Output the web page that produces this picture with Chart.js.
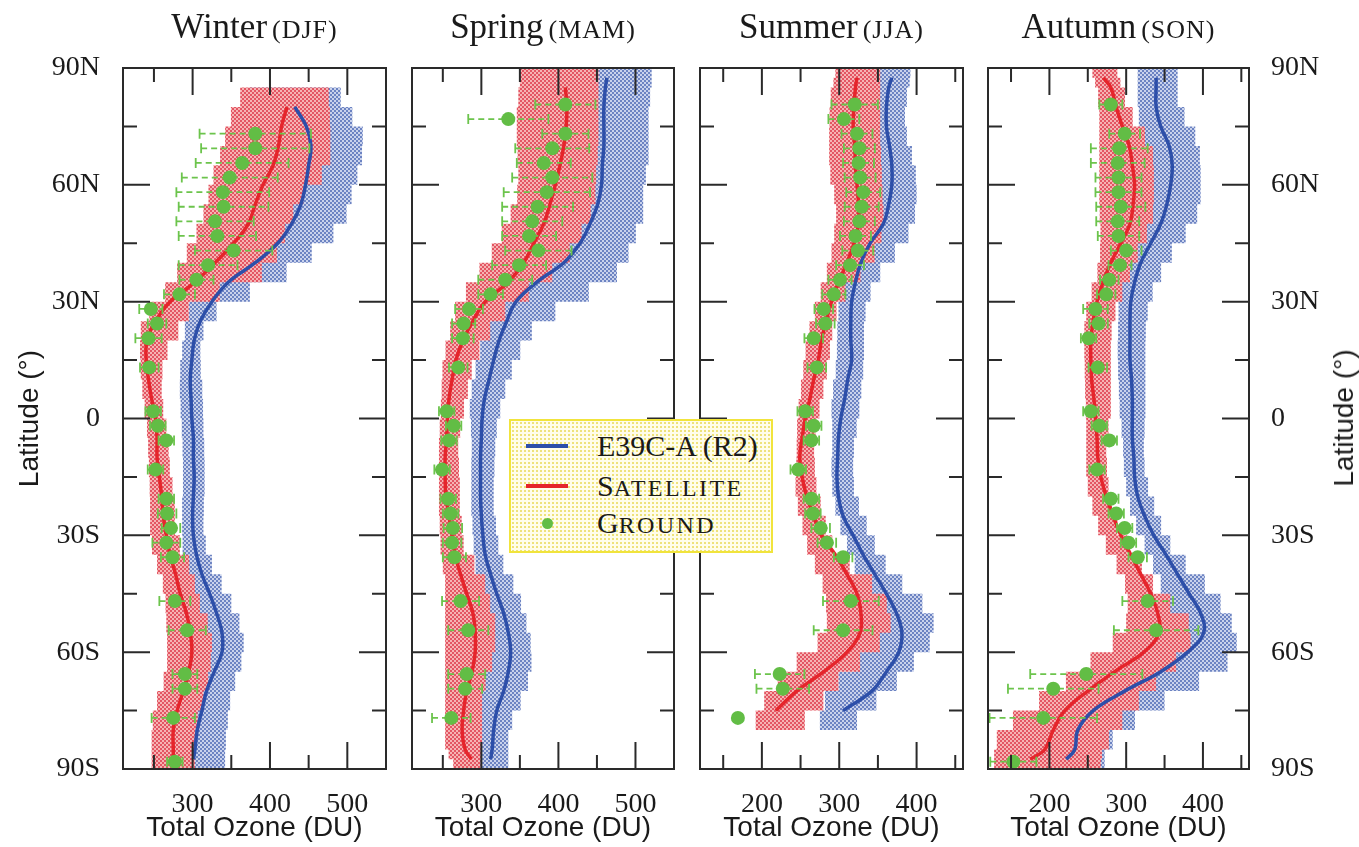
<!DOCTYPE html>
<html>
<head>
<meta charset="utf-8">
<script src="https://cdn.jsdelivr.net/npm/chart.js@4.4.1/dist/chart.umd.min.js"></script>
<style>
  body { margin: 0; background: #fff; width: 1359px; height: 847px; position: relative; overflow: hidden;
         font-family: 'Liberation Serif', serif; color: #1a1a1a; }
  canvas { position: absolute; left: 0; top: 0; }
  .ttl { position: absolute; top: 9px; text-align: center; font-size: 35px; line-height: 35px; white-space: nowrap; }
  .ttl small { font-size: 26px; letter-spacing: 1px; margin-left: 5px; }
  #ylab { position: absolute; left: 1344px; top: 418px; transform: translate(-50%, -50%) rotate(-90deg);
          font: 28px 'Liberation Sans', sans-serif; white-space: nowrap; }
  #legend { position: absolute; left: 509px; top: 419px; width: 264px; height: 134px; box-sizing: border-box;
            border: 2px solid #f1e43c; background-color: #fffdea;
            background-image: radial-gradient(#eee27a 0.9px, transparent 1px); background-size: 4px 4px; }
  #legend .row { position: absolute; left: 0; height: 34px; width: 100%; }
  #legend .sw { position: absolute; left: 15px; top: 15px; width: 42px; height: 4px; }
  #legend .dot { position: absolute; left: 31px; top: 12px; width: 11px; height: 11px; border-radius: 50%; }
  #legend .txt { position: absolute; left: 86px; top: 0; font-size: 30px; line-height: 34px; white-space: nowrap; }
  #legend .sc { font-size: 24px; letter-spacing: 2.4px; }
</style>
</head>
<body>
<canvas id="c0" width="1359" height="847"></canvas>
<canvas id="c1" width="1359" height="847"></canvas>
<canvas id="c2" width="1359" height="847"></canvas>
<canvas id="c3" width="1359" height="847"></canvas>
<div id="titles"></div>
<div id="ylab">Latitude (°)</div>
<div id="legend">
  <div class="row" style="top:8px"><span class="sw" style="background:#2d4fa9"></span><span class="txt">E39C-A (R2)</span></div>
  <div class="row" style="top:48px"><span class="sw" style="background:#e5252b"></span><span class="txt">S<span class="sc">ATELLITE</span></span></div>
  <div class="row" style="top:85px"><span class="dot" style="background:#62bd45"></span><span class="txt">G<span class="sc">ROUND</span></span></div>
</div>
<script>
// latitude grid shared by the model and satellite curves (deg, south negative)
const LAT = [-90, -87.5, -85, -80, -75, -70, -65, -60, -55, -50, -45, -40, -35, -30, -25, -20, -15, -10, -5,
  0, 5, 10, 15, 20, 25, 30, 35, 40, 45, 50, 55, 60, 65, 70, 75, 80, 85, 87.5, 90];

// latitude bins of the ground stations
const GROUND_LAT = [80.625, 76.875, 73.125, 69.375, 65.625, 61.875, 58.125, 54.375, 50.625, 46.875, 43.125,
  39.375, 35.625, 31.875, 28.125, 24.375, 20.625, 13.125, 1.875, -1.875, -5.625, -13.125, -20.625, -24.375,
  -28.125, -31.875, -35.625, -46.875, -54.375, -65.625, -69.375, -76.875, -88.125];

const seasonNames = ['Winter', 'Spring', 'Summer', 'Autumn'];
const seasonMonths = ['(DJF)', '(MAM)', '(JJA)', '(SON)'];
const latTickValues = [-90, -60, -30, 0, 30, 60, 90];
const latTickLabels = ['90S', '60S', '30S', '0', '30N', '60N', '90N'];
const ozoneTickLabels = [200, 300, 400, 500];

// Winter (DJF)
const djfModel = [null, 301, 303, 306, 312, 318, 328, 338, 338, 331, 322, 312, 305, 301, 300, 301, 302, 301, 301,
  299, 298, 297, 299, 302, 310, 325, 346, 381, 410, 428, 440, 446, 450, 453, 447, 432, null, null, null];
const djfModelLo = [262, 262, 266, 270, 280, 288, 298, 310, 310, 305, 296, 290, 287, 287, 286, 287, 288, 287, 287,
  285, 284, 283, 285, 288, 292, 298, 300, 318, 345, 360, 375, 385, 385, 385, 380, 372, 372, null, null];
const djfModelHi = [342, 342, 342, 344, 347, 350, 360, 366, 366, 355, 345, 330, 320, 314, 314, 315, 316, 315, 315,
  313, 314, 311, 310, 310, 318, 344, 404, 439, 469, 495, 503, 508, 518, 520, 520, 493, 490, null, null];
const djfSat = [null, 275, 275, 275, 280, 288, 295, 299, 297, 292, 284, 278, 271, 266, 262, 260, 257, 254, 254,
  252, 247, 243, 240, 241, 252, 271, 303, 329, 353, 372, 381, 391, 404, 411, 415, 422, null, null, null];
const djfSatLo = [247, 247, 247, 247, 250, 258, 267, 267, 267, 265, 265, 258, 250, 245, 245, 245, 244, 243, 242,
  240, 236, 234, 232, 232, 234, 254, 275, 285, 300, 310, 318, 323, 331, 340, 344, 355, 368, null, null];
const djfSatHi = [303, 303, 303, 303, 310, 318, 322, 325, 325, 314, 305, 301, 290, 277, 277, 277, 271, 270, 268,
  264, 260, 260, 262, 273, 290, 300, 370, 409, 409, 430, 430, 456, 478, 478, 478, 477, 475, null, null];
const djfGround = [null, null, 381, 381, 364, 348, 339, 340, 329, 332, 353, 320, 305, 283, 246, 254, 243, 244,
  249, 255, 266, 252, 266, 267, 272, 266, 274, 277, 293, 290, 290, 275, 277];
const djfGroundErr = [null, null, 72, 70, 60, 62, 60, 58, 50, 50, 50, 38, 22, 20, 15, 12, 17, 12,
  10, 10, 10, 10, 10, 12, 12, 18, 15, 20, 24, 16, 16, 28, 10];

// Spring (MAM)
const mamModel = [null, 312, 314, 316, 320, 329, 335, 338, 335, 329, 320, 312, 305, 302, 300, 299, 299, 299, 300,
  301, 304, 310, 316, 323, 333, 345, 372, 407, 428, 441, 451, 456, 457, 459, 459, 459, 461, 463, null];
const mamModelLo = [298, 298, 298, 298, 298, 300, 303, 305, 305, 303, 300, 295, 290, 290, 287, 287, 287, 287, 288,
  285, 285, 290, 295, 302, 310, 318, 330, 345, 360, 370, 380, 390, 398, 400, 400, 400, 405, 405, 405];
const mamModelHi = [335, 335, 335, 335, 345, 357, 364, 366, 362, 355, 348, 335, 322, 322, 316, 316, 316, 318, 318,
  322, 327, 335, 344, 357, 374, 418, 461, 491, 491, 510, 510, 510, 517, 517, 517, 517, 521, 521, 521];
const mamSat = [null, 287, 279, 275, 277, 281, 288, 292, 292, 289, 281, 273, 266, 262, 258, 254, 253, 253, 255,
  256, 258, 262, 267, 276, 289, 305, 335, 355, 368, 381, 389, 396, 402, 407, 410, 411, 409, null, null];
const mamSatLo = [265, 262, 253, 253, 253, 253, 253, 253, 253, 253, 253, 253, 247, 247, 245, 245, 245, 245, 245,
  247, 248, 249, 250, 257, 262, 270, 290, 305, 322, 331, 345, 348, 348, 346, 346, 346, 350, 350, 350];
const mamSatHi = [299, 299, 301, 301, 301, 301, 310, 318, 318, 318, 305, 305, 277, 277, 272, 272, 272, 270, 270,
  275, 280, 285, 290, 305, 318, 344, 379, 405, 424, 436, 448, 448, 450, 452, 452, 452, 452, 452, 452];
const mamGround = [409, 335, 409, 392, 381, 392, 385, 373, 366, 362, 374, 349, 331, 312, 284, 277, 276, 270,
  255, 264, 258, 249, 257, 260, 263, 262, 265, 273, 283, 281, 279, 261, null];
const mamGroundErr = [39, 52, 30, 48, 35, 52, 56, 46, 39, 35, 43, 35, 35, 16, 18, 15, 14, 12,
  10, 10, 10, 10, 10, 10, 12, 12, 15, 24, 26, 24, 22, 25, null];

// Summer (JJA)
const jjaModel = [null, null, null, null, 305, 342, 361, 377, 381, 374, 361, 346, 331, 318, 305, 299, 297, 298, 299,
  302, 307, 311, 316, 315, 315, 316, 321, 328, 340, 357, 364, 368, 368, 365, 361, 361, 364, 368, null];
const jjaModelLo = [null, null, null, 275, 275, 288, 310, 330, 335, 335, 330, 325, 315, 305, 298, 292, 290, 290, 292,
  290, 290, 294, 297, 297, 298, 300, 300, 305, 318, 330, 335, 338, 338, 338, 338, 340, 345, 345, 345];
const jjaModelHi = [null, null, null, 316, 330, 366, 383, 410, 424, 420, 395, 368, 352, 340, 331, 320, 318, 318, 320,
  325, 327, 330, 332, 332, 332, 336, 345, 361, 383, 396, 400, 400, 398, 390, 385, 385, 390, 392, 392];
const jjaSat = [null, null, null, null, 218, 245, 280, 310, 327, 328, 323, 310, 295, 277, 267, 258, 252, 249, 252,
  256, 262, 267, 273, 277, 283, 290, 299, 310, 319, 325, 325, 323, 321, 320, 318, 319, 321, 323, null];
const jjaSatLo = [null, null, null, 189, 195, 211, 230, 260, 284, 284, 282, 275, 262, 255, 250, 243, 244, 245, 245,
  246, 249, 252, 255, 258, 265, 272, 280, 288, 292, 295, 297, 290, 287, 287, 287, 288, 290, 295, 295];
const jjaSatHi = [null, null, null, 236, 275, 284, 314, 340, 365, 368, 355, 330, 297, 285, 280, 272, 269, 268, 267,
  272, 277, 282, 286, 290, 292, 301, 315, 340, 352, 357, 357, 355, 355, 353, 353, 353, 353, 353, 353];
const jjaGround = [320, 306, 323, 326, 325, 327, 331, 329, 326, 321, 324, 314, 301, 293, 280, 282, 267, 271,
  256, 267, 264, 247, 264, 266, 276, 284, 305, 315, 305, 223, 227, 169, null];
const jjaGroundErr = [30, 20, 20, 20, 20, 20, 22, 22, 20, 20, 20, 18, 15, 15, 12, 12, 12, 12,
  10, 10, 10, 10, 10, 10, 12, 12, 12, 36, 38, 32, 34, 0, null];

// Autumn (SON)
const sonModel = [null, 222, 233, 237, 257, 298, 345, 380, 401, 397, 382, 367, 352, 336, 324, 315, 311, 310, 308,
  308, 308, 307, 305, 305, 305, 306, 311, 319, 332, 345, 353, 358, 360, 356, 345, 339, 339, 339, null];
const sonModelLo = [200, 200, 200, 210, 230, 260, 300, 340, 355, 355, 350, 340, 330, 318, 308, 302, 298, 296, 296,
  292, 291, 290, 289, 289, 290, 290, 292, 298, 300, 310, 318, 322, 322, 322, 318, 315, 315, 315, 315];
const sonModelHi = [272, 272, 272, 293, 330, 370, 420, 444, 444, 431, 415, 390, 365, 350, 341, 332, 325, 323, 323,
  325, 325, 325, 325, 325, 326, 330, 339, 352, 367, 388, 397, 397, 397, 395, 385, 367, 367, 367, 367];
const sonSat = [null, 175, 194, 205, 220, 250, 285, 323, 343, 341, 332, 319, 306, 293, 283, 274, 267, 263, 262,
  260, 258, 255, 254, 254, 257, 262, 270, 280, 293, 305, 309, 311, 308, 304, 295, 287, 280, 270, null];
const sonSatLo = [128, 128, 128, 135, 170, 203, 240, 267, 298, 302, 302, 295, 280, 267, 260, 252, 248, 248, 248,
  248, 247, 246, 246, 245, 246, 250, 260, 265, 267, 266, 265, 265, 265, 265, 265, 265, 262, 257, 255];
const sonSatHi = [267, 267, 270, 285, 305, 328, 350, 380, 388, 375, 340, 330, 311, 292, 285, 278, 276, 274, 274,
  280, 280, 280, 280, 280, 282, 290, 300, 310, 320, 334, 336, 336, 336, 334, 315, 302, 295, 290, 287];
const sonGround = [280, null, 298, 291, 289, 290, 290, 293, 289, 290, 300, 292, 278, 274, 260, 264, 251, 263,
  254, 265, 278, 262, 280, 287, 298, 303, 315, 328, 339, 248, 205, 192, 153];
const sonGroundErr = [15, null, 20, 37, 35, 30, 30, 32, 28, 27, 20, 15, 12, 12, 16, 12, 10, 12,
  10, 10, 10, 10, 10, 10, 10, 10, 12, 33, 55, 73, 59, 70, 30];

const panels = [
  { model: djfModel, modelLo: djfModelLo, modelHi: djfModelHi, sat: djfSat, satLo: djfSatLo, satHi: djfSatHi,
    ground: djfGround, err: djfGroundErr, min: 210, max: 550, left: 123, right: 386, yAxis: 'left' },
  { model: mamModel, modelLo: mamModelLo, modelHi: mamModelHi, sat: mamSat, satLo: mamSatLo, satHi: mamSatHi,
    ground: mamGround, err: mamGroundErr, min: 210, max: 550, left: 412, right: 674, yAxis: null },
  { model: jjaModel, modelLo: jjaModelLo, modelHi: jjaModelHi, sat: jjaSat, satLo: jjaSatLo, satHi: jjaSatHi,
    ground: jjaGround, err: jjaGroundErr, min: 120, max: 460, left: 700, right: 963, yAxis: null },
  { model: sonModel, modelLo: sonModelLo, modelHi: sonModelHi, sat: sonSat, satLo: sonSatLo, satHi: sonSatHi,
    ground: sonGround, err: sonGroundErr, min: 120, max: 460, left: 988, right: 1249, yAxis: 'right' }
];

const W = 1359, TOP = 68, XAXIS_H = 78;

function checker(light, dark) {
  const c = document.createElement('canvas');
  c.width = 4; c.height = 4;
  const g = c.getContext('2d');
  g.fillStyle = light; g.fillRect(0, 0, 4, 4);
  g.fillStyle = dark; g.fillRect(0, 0, 2, 2); g.fillRect(2, 2, 2, 2);
  return g.createPattern(c, 'repeat');
}
const bluePattern = checker('#c9d2ec', '#6c83c2');
const redPattern = checker('#f6b3b3', '#e35563');

function curve(vals) {
  const pts = [];
  LAT.forEach((lat, i) => { if (vals[i] != null) pts.push({ x: vals[i], y: lat }); });
  return pts;
}

// closed polygon: up along the low edge, back down along the high edge
function band(lo, hi) {
  const pts = curve(lo);
  for (let i = LAT.length - 1; i >= 0; i--) if (hi[i] != null) pts.push({ x: hi[i], y: LAT[i] });
  return pts;
}

const frame = {
  id: 'frame',
  afterDatasetsDraw(chart) {
    const { ctx, chartArea: a, scales: { x, y } } = chart;
    ctx.save();
    ctx.strokeStyle = '#2a2a2a';
    ctx.lineWidth = 2;
    ctx.beginPath();
    x.ticks.forEach(t => {
      const px = x.getPixelForValue(t.value);
      const len = t.value % 100 === 0 ? 27 : 14;
      ctx.moveTo(px, a.bottom); ctx.lineTo(px, a.bottom - len);
      ctx.moveTo(px, a.top); ctx.lineTo(px, a.top + len);
    });
    y.ticks.forEach(t => {
      const py = y.getPixelForValue(t.value);
      const len = t.value % 30 === 0 ? 27 : 14;
      ctx.moveTo(a.left, py); ctx.lineTo(a.left + len, py);
      ctx.moveTo(a.right, py); ctx.lineTo(a.right - len, py);
    });
    ctx.stroke();
    ctx.strokeRect(a.left, a.top, a.width, a.height);
    ctx.restore();
  }
};

const errorBars = {
  id: 'errorBars',
  beforeDatasetDraw(chart, args) {
    const ds = chart.data.datasets[args.index];
    if (!ds.errors) return;
    const { ctx, chartArea: a, scales: { x } } = chart;
    ctx.save();
    ctx.beginPath(); ctx.rect(a.left, a.top, a.width, a.height); ctx.clip();
    ctx.strokeStyle = '#6cc44c';
    ctx.lineWidth = 1.8;
    args.meta.data.forEach((pt, i) => {
      const e = ds.errors[i];
      if (!e) return;
      const v = ds.data[i].x;
      const x0 = x.getPixelForValue(v - e), x1 = x.getPixelForValue(v + e);
      ctx.setLineDash([6, 4]);
      ctx.beginPath(); ctx.moveTo(x0, pt.y); ctx.lineTo(x1, pt.y); ctx.stroke();
      ctx.setLineDash([]);
      ctx.beginPath();
      ctx.moveTo(x0, pt.y - 5); ctx.lineTo(x0, pt.y + 5);
      ctx.moveTo(x1, pt.y - 5); ctx.lineTo(x1, pt.y + 5);
      ctx.stroke();
    });
    ctx.restore();
  }
};

const tickFont = { family: 'Liberation Serif', size: 28 };
const titleFont = { family: 'Liberation Sans', size: 28 };

panels.forEach((p, k) => {
  const groundPts = [], groundErr = [];
  GROUND_LAT.forEach((lat, i) => {
    if (p.ground[i] != null) { groundPts.push({ x: p.ground[i], y: lat }); groundErr.push(p.err[i]); }
  });

  const yLeft = p.yAxis === 'left', yRight = p.yAxis === 'right';
  const padding = {
    top: TOP, bottom: 0,
    left: yLeft ? 0 : p.left,
    right: yRight ? 0 : W - p.right
  };

  new Chart(document.getElementById('c' + k), {
    type: 'line',
    data: {
      datasets: [
        { data: band(p.modelLo, p.modelHi), fill: 'shape', stepped: 'middle', backgroundColor: bluePattern,
          borderWidth: 0, borderColor: 'rgba(0,0,0,0)', pointRadius: 0, order: 5 },
        { data: band(p.satLo, p.satHi), fill: 'shape', stepped: 'middle', backgroundColor: redPattern,
          borderWidth: 0, borderColor: 'rgba(0,0,0,0)', pointRadius: 0, order: 4 },
        { data: curve(p.model), borderColor: '#2d4fa9', borderWidth: 3.5, tension: 0.4, pointRadius: 0,
          fill: false, order: 3 },
        { data: curve(p.sat), borderColor: '#e5252b', borderWidth: 3.5, tension: 0.4, pointRadius: 0,
          fill: false, order: 2 },
        { data: groundPts, errors: groundErr, showLine: false, pointRadius: 7, pointBorderWidth: 0,
          pointBackgroundColor: '#62bd45', pointBorderColor: '#62bd45', order: 1 }
      ]
    },
    options: {
      indexAxis: 'y',
      responsive: false,
      animation: false,
      events: [],
      layout: { padding, autoPadding: false },
      plugins: { legend: { display: false }, tooltip: { enabled: false } },
      scales: {
        x: {
          type: 'linear', position: 'bottom', min: p.min, max: p.max,
          grid: { display: false }, border: { display: false },
          ticks: { stepSize: 50, includeBounds: false, autoSkip: false, maxRotation: 0, padding: 11,
                   font: tickFont, color: '#1a1a1a',
                   callback: v => ozoneTickLabels.includes(v) ? String(v) : '' },
          title: { display: true, text: 'Total Ozone (DU)', font: titleFont, color: '#1a1a1a',
                   padding: { top: 0, bottom: 2 } },
          afterFit: s => { s.height = XAXIS_H; }
        },
        y: {
          type: 'linear', min: -90, max: 90, display: p.yAxis != null,
          position: yRight ? 'right' : 'left',
          grid: { display: false }, border: { display: false },
          ticks: { stepSize: 15, autoSkip: false, padding: yRight ? 14 : 15, font: tickFont, color: '#1a1a1a',
                   callback: v => { const j = latTickValues.indexOf(v); return j >= 0 ? latTickLabels[j] : ''; } },
          title: { display: yLeft, text: 'Latitude (°)', font: titleFont, color: '#1a1a1a',
                   padding: { top: 13, bottom: 0 } },
          afterFit: s => { s.width = yLeft ? p.left : (yRight ? W - p.right : 0); }
        }
      }
    },
    plugins: [errorBars, frame]
  });

  const t = document.createElement('div');
  t.className = 'ttl';
  t.style.left = p.left + 'px';
  t.style.width = (p.right - p.left) + 'px';
  t.innerHTML = seasonNames[k] + '<small>' + seasonMonths[k] + '</small>';
  document.getElementById('titles').appendChild(t);
});
</script>
</body>
</html>
